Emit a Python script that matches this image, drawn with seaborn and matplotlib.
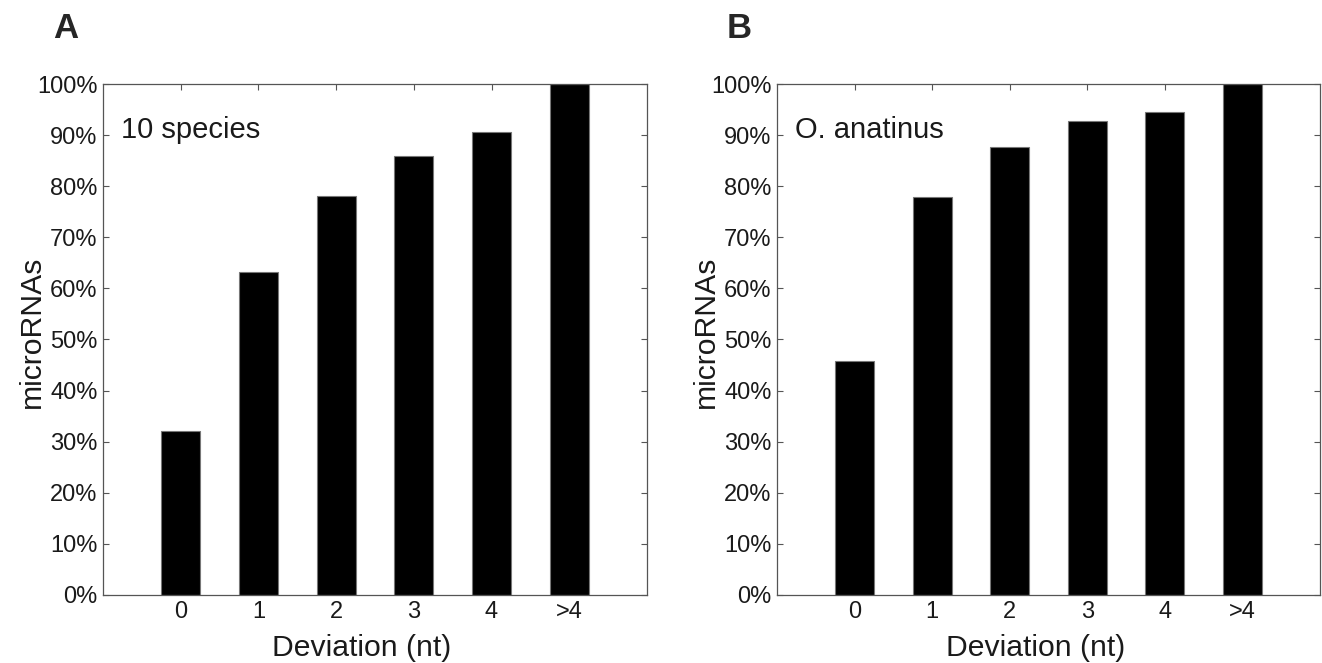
import pandas as pd
import matplotlib
matplotlib.use('Agg')
import matplotlib.pyplot as plt
import seaborn as sns

# Dados
categorias   = ['0', '1', '2', '3', '4', '>4']
dez_especies = [32.1, 63.3, 78.0, 85.9, 90.6, 100.0]
o_anatinus   = [45.7, 77.9, 87.6, 92.8, 94.5, 100.0]
rotulos_y    = ['0%', '10%', '20%', '30%', '40%', '50%', '60%', '70%', '80%', '90%', '100%']

sns.set_style('ticks')
plt.rcParams['font.family'] = ['Liberation Sans', 'DejaVu Sans']

fig = plt.figure(figsize=(13.22, 6.63), dpi=100)
ax_a = fig.add_axes([0.0779, 0.1026, 0.4115, 0.7707])
ax_b = fig.add_axes([0.5877, 0.1026, 0.4108, 0.7707])

def desenha_painel(ax, valores, nome, letra, x_letra):
    df = pd.DataFrame({'Deviation': categorias, 'valor': valores})
    sns.barplot(data=df, x='Deviation', y='valor', order=categorias, ax=ax,
                color='black', width=0.5, edgecolor='#777777', linewidth=0.8,
                saturation=1)
    ax.set_xlim(-1, 6)
    ax.set_ylim(0, 100)
    ax.set_yticks(range(0, 101, 10))
    ax.set_yticklabels(rotulos_y)
    for lado in ['top', 'right', 'left', 'bottom']:
        ax.spines[lado].set_visible(True)
        ax.spines[lado].set_color('#555555')
        ax.spines[lado].set_linewidth(0.9)
    ax.tick_params(direction='in', length=4, width=0.8, color='#555555',
                   top=True, right=True, labelsize=17, pad=4, labelcolor='#1a1a1a')
    ax.set_xlabel('Deviation (nt)', fontsize=21.7, labelpad=8, color='#1a1a1a')
    ax.xaxis.label.set_x(0.476)
    ax.set_ylabel('microRNAs', fontsize=21.7, color='#1a1a1a')
    ax.yaxis.label.set_va('center')
    ax.yaxis.set_label_coords(-0.130, 0.515)
    ax.text(-0.77, 91, nome, fontsize=21, va='center', ha='left', color='#1a1a1a')
    fig.text(x_letra, 0.943, letra, fontsize=25, fontweight='bold', ha='left', va='baseline')

desenha_painel(ax_a, dez_especies, '10 species', 'A', 0.040)
desenha_painel(ax_b, o_anatinus, 'O. anatinus', 'B', 0.550)

fig.savefig('out.png', dpi=100, facecolor='white')
